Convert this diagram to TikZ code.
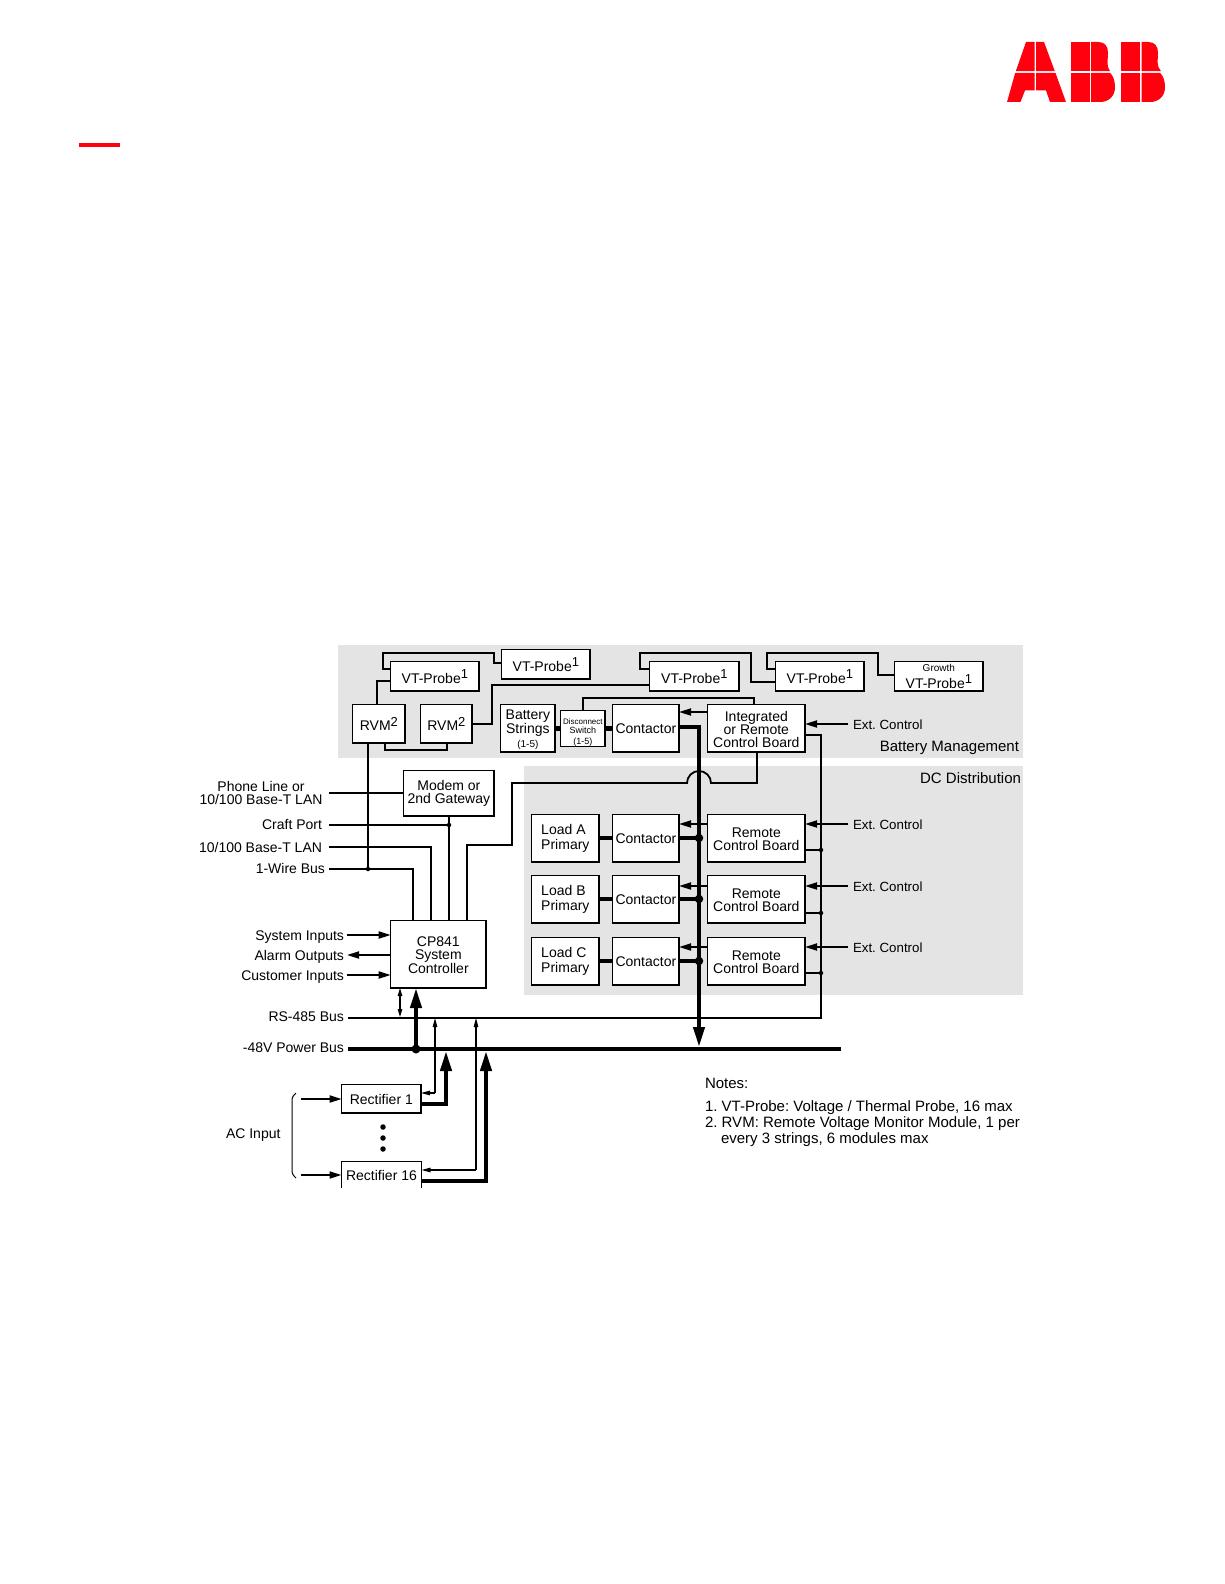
\documentclass[tikz,border=0pt]{standalone}
\usepackage{fontspec}
\setmainfont{Liberation Sans}
\usetikzlibrary{arrows.meta}
\frenchspacing
\definecolor{abbred}{HTML}{FF000F}
\definecolor{panel}{HTML}{E4E4E4}
\newcommand{\sone}{\raisebox{4.5pt}{\fontsize{13}{13}\selectfont 1}}
\newcommand{\stwo}{\raisebox{4.5pt}{\fontsize{13}{13}\selectfont 2}}
\newcommand{\dn}[1]{\rule{0pt}{\dimexpr 10pt+#1pt+#1pt\relax}}
\newcommand{\bx}[7][]{\node[blockbox,minimum width={(#5-#3-0.7)*1pt},minimum height={(#6-#4-0.7)*1pt},at={({(#3+#5+0.7)/2},{(#4+#6+0.7)/2})},#1] (#2) {#7};}
\tikzset{
 blockbox/.style={draw=black,fill=white,line width=1.3pt,inner sep=0pt,outer sep=0pt,align=center,font=\fontsize{14}{13}\selectfont\frenchspacing},
 lab/.style={inner sep=0pt,outer sep=0pt,text height=10pt,text depth=0pt,font=\fontsize{14}{13}\selectfont\frenchspacing},
 labl/.style={lab,font=\fontsize{15}{13}\selectfont\frenchspacing},
 labs/.style={lab,font=\fontsize{13.3}{13}\selectfont\frenchspacing},
 thinw/.style={line width=1.1pt},
 midw/.style={line width=1.8pt},
 heavy/.style={line width=4.5pt},
 heavyb/.style={line width=4.7pt},
 smalltip/.style={-{Triangle[length=12pt,width=7pt]}},
 tinytip/.style={-{Triangle[length=9pt,width=4.5pt]}},
 bigtip/.style={-{Triangle[length=20pt,width=11pt]}},
 dotn/.style={circle,fill=black,inner sep=0pt,outer sep=0pt},
}
\begin{document}
\begin{tikzpicture}[x=1pt,y=-1pt,line join=miter]
\useasboundingbox (0,0) rectangle (1224,1584);
% logo
\fill[abbred] (1026,42) -- (1034.6,42) -- (1034.6,71.2) -- (1015.8,71.2) -- cycle;
\fill[abbred] (1036.2,42) -- (1044,42) -- (1054.8,71.2) -- (1036.2,71.2) -- cycle;
\fill[abbred] (1015.2,72.8) -- (1034.6,72.8) -- (1034.6,90.5) -- (1025,90.5) -- (1020.5,102) -- (1007,102) -- cycle;
\fill[abbred] (1036.2,72.8) -- (1055.4,72.8) -- (1066,102) -- (1050,102) -- (1046,90.5) -- (1036.2,90.5) -- cycle;
\fill[abbred] (1071,42) -- (1089.5,42) -- (1089.5,71.2) -- (1071,71.2) -- cycle;
\fill[abbred] (1071,72.8) -- (1089.5,72.8) -- (1089.5,102) -- (1071,102) -- cycle;
\fill[abbred] (1091,42) -- (1098,42) .. controls (1105,42) and (1108,46) .. (1108,53) .. controls (1108,60) and (1106,66) .. (1110,71.2) -- (1091,71.2) -- cycle;
\fill[abbred] (1091,72.8) -- (1110,72.8) .. controls (1113,76) and (1115,80) .. (1115,87) .. controls (1115,96) and (1109,102) .. (1100,102) -- (1091,102) -- cycle;
\fill[abbred] (1121,42) -- (1140,42) -- (1140,71.2) -- (1121,71.2) -- cycle;
\fill[abbred] (1121,72.8) -- (1140,72.8) -- (1140,102) -- (1121,102) -- cycle;
\fill[abbred] (1141.5,42) -- (1148,42) .. controls (1155,42) and (1158,46) .. (1158,53) .. controls (1158,60) and (1156,66) .. (1161,71.2) -- (1141.5,71.2) -- cycle;
\fill[abbred] (1141.5,72.8) -- (1160,72.8) .. controls (1163,76) and (1165,80) .. (1165,87) .. controls (1165,96) and (1159,102) .. (1150,102) -- (1141.5,102) -- cycle;
\fill[abbred] (79,143) rectangle (120,147);
% panels
\fill[panel] (338,645) rectangle (1023,758);
\fill[panel] (524,766) rectangle (1023,995);
% boxes
\bx{vta}{390}{661}{479}{691}{\dn{2}VT-Probe\sone}
\bx{vtb}{501}{649}{590}{679}{\dn{2}VT-Probe\sone}
\bx{vtc}{649}{661}{739}{691}{\dn{2}VT-Probe\sone}
\bx{vtd}{775}{661}{864}{691}{\dn{2}VT-Probe\sone}
\bx{vtg}{894}{661}{983}{691}{{\fontsize{10}{10}\selectfont Growth}\\[2pt]VT-Probe\sone}
\bx{rvma}{352}{704}{405}{743}{\dn{1}RVM\stwo}
\bx{rvmb}{420}{704}{472}{743}{\dn{1}RVM\stwo}
\bx{batt}{500}{704}{555}{752}{\dn{1.5}Battery\\Strings\\[1pt]{\fontsize{10}{10}\selectfont (1-5)}}
\bx{disc}{560}{710}{605}{746}{\dn{2}{\fontsize{8}{8}\selectfont Disconnect}\\[-4pt]{\fontsize{9}{9}\selectfont Switch}\\[-2pt]{\fontsize{9}{9}\selectfont (1-5)}}
\bx{cont}{612}{704}{679}{752}{\dn{0.5}Contactor}
\bx{icb}{707}{704}{805}{752}{\dn{1.5}Integrated\\or Remote\\Control Board}
\bx{modem}{403}{770}{494}{816}{Modem or\\2nd Gateway}
\bx[align=left]{loada}{531}{814}{599}{862}{Load A\\[2pt]Primary}
\bx{conta}{612}{814}{679}{862}{\dn{0.5}Contactor}
\bx{rcba}{707}{814}{805}{862}{\dn{0.5}Remote\\Control Board}
\bx[align=left]{loadb}{531}{875}{599}{923}{Load B\\[2pt]Primary}
\bx{contb}{612}{875}{679}{923}{\dn{0.5}Contactor}
\bx{rcbb}{707}{875}{805}{923}{\dn{0.5}Remote\\Control Board}
\bx[align=left]{loadc}{531}{937}{599}{985}{Load C\\[2pt]Primary}
\bx{contc}{612}{937}{679}{985}{\dn{0.5}Contactor}
\bx{rcbc}{707}{937}{805}{985}{\dn{0.5}Remote\\Control Board}
\bx{cp}{390}{920}{486}{988}{\dn{1}CP841\\System\\Controller}
\bx{recta}{341}{1084}{421}{1113}{\dn{1}Rectifier 1}
\node[inner sep=0pt,outer sep=0pt,minimum width=80pt,minimum height=26pt,font=\fontsize{14}{13}\selectfont] (rectp) at (381.5,1174.5) {\dn{1}Rectifier 16};
\draw[line width=1.3pt] (rectp.south west) -- (rectp.north west) -- (rectp.north east) -- (rectp.south east);
% free ends
\coordinate (busw) at (348,1049); \coordinate (buse) at (841,1049);
\coordinate (rsw) at (348,1018); \coordinate (rse) at (821,1018);
\coordinate (jwire) at (368,869); \coordinate (jcraft) at (449,825);
\coordinate (phonew) at (329,793);
% labels
\node[lab,align=center,font=\fontsize{14}{13}\selectfont] (lphone) at (261,799) {Phone Line or\\10/100 Base-T LAN};
\node[lab,anchor=east] (lcraft) at (322,824) {Craft Port};
\node[lab,anchor=east] (llan) at (322,847) {10/100 Base-T LAN};
\node[lab,anchor=east] (lwire) at (325,868) {1-Wire Bus};
\node[lab,anchor=east] (lsys) at (344,935) {System Inputs};
\node[lab,anchor=east] (lalarm) at (344,955) {Alarm Outputs};
\node[lab,anchor=east] (lcust) at (344,975) {Customer Inputs};
\node[lab,anchor=east] (lrs) at (344,1016) {RS-485 Bus};
\node[lab,anchor=east] (lbus) at (344,1047) {-48V Power Bus};
\node[labl,anchor=east] (lbm) at (1019,746) {Battery Management};
\node[labl,anchor=east] (ldc) at (1021,778) {DC Distribution};
\node[labs,anchor=west] (lext) at (853,724) {Ext. Control};
\node[labs,anchor=west] (lexta) at (853,824) {Ext. Control};
\node[labs,anchor=west] (lextb) at (853,886) {Ext. Control};
\node[labs,anchor=west] (lextc) at (853,947) {Ext. Control};
\node[lab,anchor=west] (lac) at (226,1133) {AC Input};
\node[labl,anchor=west] (n0) at (705,1083) {Notes:};
\node[labl,anchor=west] (n1) at (705,1106) {1. VT-Probe: Voltage / Thermal Probe, 16 max};
\node[labl,anchor=west] (n2) at (705,1122) {2. RVM: Remote Voltage Monitor Module, 1 per};
\node[labl,anchor=west] (n3) at (721,1138) {every 3 strings, 6 modules max};
% probe wiring
\draw[midw] (377,0 |- rvma.north) -- (377,681) -- (vta.west |- 0,681);
\draw[midw] (vta.west |- 0,669) -- (383,669) -- (383,653) -- (494,653) -- (494,663) -- (vtb.west |- 0,663);
\draw[midw] (rvmb.east |- 0,724) -- (492,724) -- (492,685) -- (vtc.west |- 0,685);
\draw[midw] (vtc.west |- 0,669) -- (640,669) -- (640,653) -- (751,653) -- (751,682) -- (vtd.west |- 0,682);
\draw[midw] (vtd.west |- 0,669) -- (767,669) -- (767,653) -- (878,653) -- (878,675) -- (vtg.west |- 0,675);
\draw[midw] (385,0 |- rvma.south) -- (385,750) -- (447,750) -- (447,0 |- rvmb.south);
\draw[midw] (368,0 |- rvma.south) -- (jwire);
\draw[midw] (583,0 |- disc.north) -- (583,698) -- (754,698) -- (754,0 |- icb.north);
% left side wiring
\draw[thinw] (phonew) -- (modem.west |- 0,793);
\draw[midw] (329,825) -- (jcraft);
\draw[thinw] (jcraft) -- (449,0 |- modem.south);
\draw[thinw] (jcraft) -- (449,0 |- cp.north);
\draw[midw] (329,847) -- (431,847) -- (431,0 |- cp.north);
\draw[midw] (329,869) -- (jwire) -- (413,869) -- (413,0 |- cp.north);
\draw[midw] (467,0 |- cp.north) -- (467,845) -- (512,845) -- (512,783) -- (687,783) arc[start angle=180,end angle=0,radius=12pt] -- (757,783) -- (757,0 |- icb.south);
\node[dotn,minimum size=4.5pt] (dwire) at (jwire) {};
\node[dotn,minimum size=4.5pt] (dcraft) at (jcraft) {};
\draw[midw,smalltip] (347,935) -- (cp.west |- 0,935);
\draw[midw,smalltip] (cp.west |- 0,955) -- (347,955);
\draw[midw,smalltip] (347,975) -- (cp.west |- 0,975);
% rails
\draw[thinw] (icb.east |- 0,735) -- (821,735) -- (rse) -- (rsw);
\draw[heavyb] (busw) -- (buse);
\draw[thinw,{Triangle[length=8pt,width=4.5pt]}-{Triangle[length=8pt,width=4.5pt]}] (400,0 |- cp.south) -- (400,1017);
\draw[line width=4pt,bigtip] (416,1049) -- (416,0 |- cp.south);
\node[dotn,minimum size=9pt] (dbus) at (416,1049) {};
% contactor wiring
\draw[line width=5pt] (batt.east |- 0,728) -- (disc.west |- 0,728);
\draw[line width=5pt] (disc.east |- 0,728) -- (cont.west |- 0,728);
\draw[heavy] (cont.east |- 0,727) -- (699,727);
\draw[line width=4pt,bigtip,line cap=butt] (699,724.75) -- (699,1047);
\draw[midw,smalltip] (icb.west |- 0,712) -- (cont.east |- 0,712);
\draw[midw,smalltip] (848,724) -- (icb.east |- 0,724);
\foreach \r/\y/\ya/\yb/\yc in {a/824/838/824/850,b/886/899/886/913,c/947/961/947/973}{
  \draw[heavy] (load\r.east |- 0,\ya) -- (cont\r.west |- 0,\ya);
  \draw[heavy] (cont\r.east |- 0,\ya) -- (699,\ya);
  \node[dotn,minimum size=8.5pt] (dc\r) at (699,\ya) {};
  \draw[midw,smalltip] (rcb\r.west |- 0,\y) -- (cont\r.east |- 0,\y);
  \draw[midw,smalltip] (848,\y) -- (rcb\r.east |- 0,\y);
  \draw[thinw] (rcb\r.east |- 0,\yc) -- (821,\yc);
  \node[dotn,minimum size=4.5pt] (dr\r) at (821,\yc) {};
}
% rectifiers
\draw[thinw,tinytip] (435,1093) -- (recta.east |- 0,1093);
\draw[thinw,tinytip] (435,1093) -- (435,1018);
\draw[line width=4pt,bigtip] (recta.east |- 0,1104) -- (446,1104) -- (446,1051);
\draw[thinw,tinytip] (476,1170) -- (rectp.east |- 0,1170);
\draw[thinw,tinytip] (476,1170) -- (476,1018);
\draw[line width=4pt,bigtip] (rectp.east |- 0,1181) -- (486,1181) -- (486,1051);
\draw[midw,smalltip] (301,1099) -- (recta.west |- 0,1099);
\draw[midw,smalltip] (301,1175) -- (rectp.west |- 0,1175);
\draw[line width=1pt] (296,1093) .. controls (293,1096) and (292,1097) .. (292,1101) -- (292,1170) .. controls (292,1174) and (293,1175) .. (296,1178);
\foreach \y/\n in {1127/a,1138/b,1149/c} \node[dotn,minimum size=5.5pt] (dots\n) at (383,\y) {};
\end{tikzpicture}
\end{document}
